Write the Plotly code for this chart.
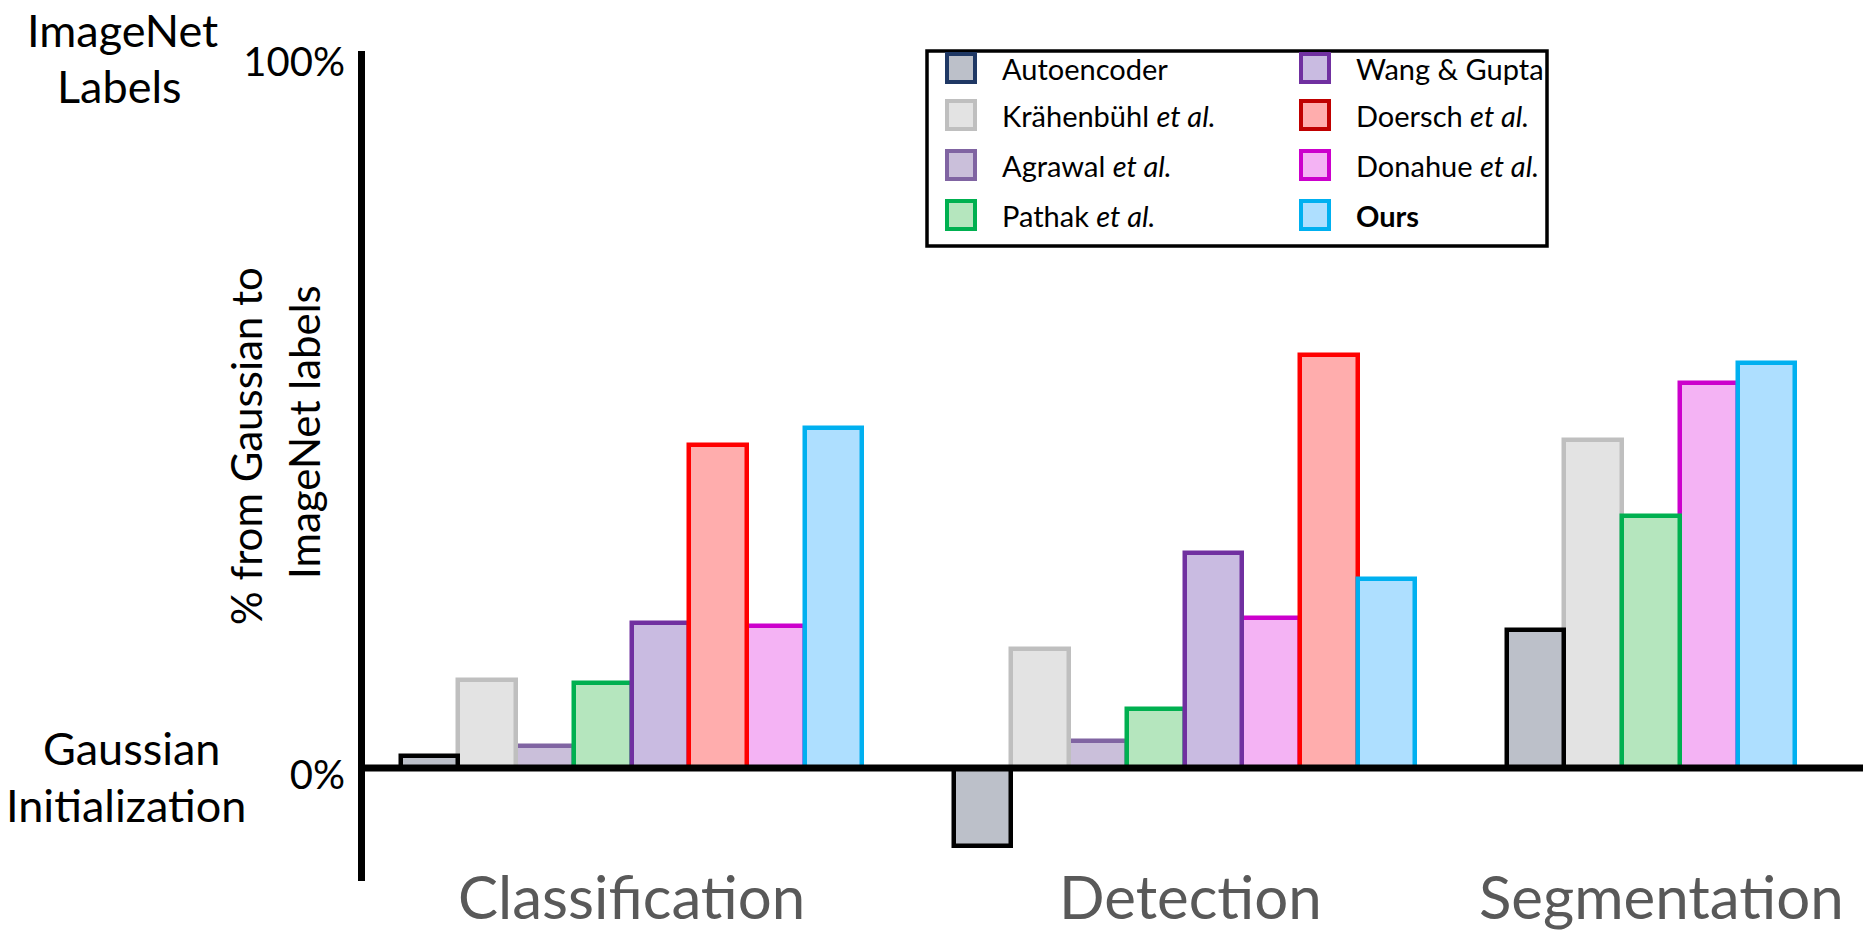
import plotly.graph_objects as go

W, H = 1863, 935

categories = ["Classification", "Detection", "Segmentation"]

methods = ["Autoencoder", "Krähenbühl et al.", "Agrawal et al.", "Pathak et al.",
           "Wang & Gupta", "Doersch et al.", "Donahue et al.", "Ours"]
legend_labels = ["Autoencoder", "Krähenbühl <i>et al.</i>", "Agrawal <i>et al.</i>",
                 "Pathak <i>et al.</i>", "Wang &amp; Gupta", "Doersch <i>et al.</i>",
                 "Donahue <i>et al.</i>", "<b>Ours</b>"]

# % from Gaussian init (0%) to ImageNet labels (100%), per category
autoencoder = [1.7, -10.9, 19.3]
krahenbuhl = [12.3, 16.7, 46.0]
agrawal = [3.1, 3.8, None]
pathak = [11.9, 8.3, 35.3]
wang_gupta = [20.3, 30.1, None]
doersch = [45.3, 57.9, None]
donahue = [19.9, 21.0, 54.0]
ours = [47.7, 26.5, 56.8]
values = [autoencoder, krahenbuhl, agrawal, pathak, wang_gupta, doersch, donahue, ours]

# slot order of the bars inside each category group
slot_order = [
    ["Autoencoder", "Krähenbühl et al.", "Agrawal et al.", "Pathak et al.",
     "Wang & Gupta", "Doersch et al.", "Donahue et al.", "Ours"],
    ["Autoencoder", "Krähenbühl et al.", "Agrawal et al.", "Pathak et al.",
     "Wang & Gupta", "Donahue et al.", "Doersch et al.", "Ours"],
    ["Autoencoder", "Krähenbühl et al.", "Pathak et al.", "Donahue et al.", "Ours"],
]

line_colors = ["#000000", "#BFBFBF", "#8064A2", "#00B050",
               "#7030A0", "#FF0000", "#CC00CC", "#00B0F0"]
legend_line_colors = ["#1F3864", "#BFBFBF", "#8064A2", "#00B050",
                      "#7030A0", "#C00000", "#CC00CC", "#00B0F0"]
fill_colors = ["#BCC0C9", "#E3E3E3", "#CABFDA", "#B5E6BE",
               "#C9BBE1", "#FFADAD", "#F4B3F4", "#AEDFFF"]

draw_order = ["Donahue et al.", "Agrawal et al.", "Krähenbühl et al.", "Pathak et al.",
              "Wang & Gupta", "Autoencoder", "Doersch et al.", "Ours"]

BAR_W = 0.1043          # bar width in category units
X_LEFT, X_RIGHT = -0.4819, 2.2269
Y_LOW, Y_HIGH = -15.85, 100.6

fig = go.Figure()
for name in draw_order:
    m = methods.index(name)
    xs, ys = [], []
    for ci, cat in enumerate(categories):
        v = values[m][ci]
        if v is None:
            continue
        k = slot_order[ci].index(name)
        xs.append(ci + (k - 3.5) * BAR_W)
        ys.append(v)
    fig.add_trace(go.Bar(
        x=xs, y=ys, width=BAR_W, name=name, showlegend=False,
        marker=dict(color=fill_colors[m], line=dict(color=line_colors[m], width=4.5)),
    ))

def px(x):
    return x / W

def py(y):
    return 1 - y / H

x_dom0 = 365 / W
fig.update_layout(
    width=W, height=H, autosize=False,
    margin=dict(l=0, r=0, t=0, b=0, pad=0, autoexpand=False),
    paper_bgcolor="white", plot_bgcolor="white",
    barmode="overlay", bargap=0, showlegend=False,
    font=dict(family="Lato, sans-serif", color="black"),
    xaxis=dict(domain=[x_dom0, 1], range=[X_LEFT, X_RIGHT], showgrid=False,
               zeroline=False, showticklabels=False, showline=False, fixedrange=True,
               automargin=False),
    yaxis=dict(domain=[(H - 881) / H, (H - 51) / H], range=[Y_LOW, Y_HIGH],
               showgrid=False, zeroline=False, showline=True, linecolor="black",
               linewidth=7, tickvals=[0, 100], ticktext=["0%", "100%"], ticks="",
               tickfont=dict(size=40, family="Lato, sans-serif", color="black"),
               ticklabelstandoff=5, ticklabelshift=7, fixedrange=True, automargin=False),
)

shapes = []
# zero baseline drawn above the bars
shapes.append(dict(type="line", xref="paper", yref="y", x0=x_dom0 - 3 / W, x1=1,
                   y0=0, y1=0, line=dict(color="black", width=7), layer="above"))

# legend box
shapes.append(dict(type="rect", xref="paper", yref="paper",
                   x0=px(927), x1=px(1547), y0=py(51), y1=py(246),
                   line=dict(color="black", width=3.5), fillcolor="white", layer="above"))
rows = [68, 115, 165, 215]
cols = [(947, 1000), (1301, 1354)]
annotations = []
for i in range(8):
    c = i // 4
    r = i % 4
    sx, tx = cols[c]
    cy = rows[r]
    shapes.append(dict(type="rect", xref="paper", yref="paper",
                       x0=px(sx), x1=px(sx + 28), y0=py(cy - 14), y1=py(cy + 14),
                       line=dict(color=legend_line_colors[i], width=4),
                       fillcolor=fill_colors[i], layer="above"))
    annotations.append(dict(xref="paper", yref="paper", x=px(tx), y=py(cy),
                            xanchor="left", yanchor="middle", showarrow=False,
                            text=legend_labels[i],
                            font=dict(size=29, color="black", family="Lato, sans-serif")))

side_font = dict(size=45, color="black", family="Lato, sans-serif")
for txt, cx, cy in [("ImageNet", 122, 30), ("Labels", 120, 86),
                    ("Gaussian", 131, 748), ("Initialization", 126, 805)]:
    annotations.append(dict(xref="paper", yref="paper", x=px(cx), y=py(cy),
                            xanchor="center", yanchor="middle", showarrow=False,
                            text=txt, font=side_font))

title_font = dict(size=42, color="black", family="Lato, sans-serif")
annotations.append(dict(xref="paper", yref="paper", x=px(246), y=py(446),
                        xanchor="center", yanchor="middle", showarrow=False,
                        textangle=-90, text="% from Gaussian to", font=title_font))
annotations.append(dict(xref="paper", yref="paper", x=px(304), y=py(432),
                        xanchor="center", yanchor="middle", showarrow=False,
                        textangle=-90, text="ImageNet labels", font=title_font))

cat_font = dict(size=60, color="#595959", family="Lato, sans-serif")
for txt, cx in zip(categories, [631, 1190, 1661]):
    annotations.append(dict(xref="paper", yref="paper", x=px(cx), y=py(896),
                            xanchor="center", yanchor="middle", showarrow=False,
                            text=txt, font=cat_font))

fig.update_layout(shapes=shapes, annotations=annotations)
fig.write_html(
    "out.html",
    config={"displayModeBar": False},
    post_script="document.body.style.margin='0';document.body.style.overflow='hidden';",
)
